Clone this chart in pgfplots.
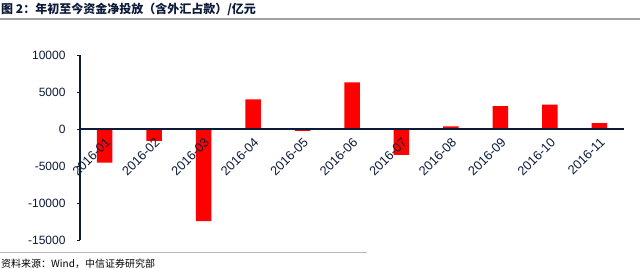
\documentclass[border=0pt]{standalone}
\usepackage{fontspec}
\setmainfont{Liberation Sans}
\newfontfamily\cjk{Noto Sans CJK SC}
\usepackage{pgfplots}
\pgfplotsset{compat=1.18}
\definecolor{navy}{HTML}{0D1B3A}
\definecolor{barred}{HTML}{FF0000}
\begin{document}
\begin{tikzpicture}[x=1pt,y=1pt]
\useasboundingbox (0,0) rectangle (640,268);
\fill[white] (0,0) rectangle (640,268);
\node[anchor=west,inner sep=0pt,font=\fontsize{12}{12}\cjk\bfseries,text=navy] at (1,259) {图 2：年初至今资金净投放（含外汇占款）/亿元};
\draw[gray!75, line width=1.6pt] (0,249) -- (640,249);
\draw[gray!55, line width=0.8pt] (0,15.3) -- (367,15.3);
\node[anchor=west,inner sep=0pt,font=\fontsize{10}{10}\cjk,text=black] at (1,4.5) {资料来源：Wind，中信证券研究部};
\begin{axis}[
  at={(80pt,28pt)}, anchor=south west,
  width=544pt, height=185pt, scale only axis,
  xmin=-0.5, xmax=10.5, ymin=-15000, ymax=10000,
  axis x line=middle, axis y line=left,
  axis line style={-, navy, line width=1.3pt},
  axis on top,
  ybar, bar width=15.5pt,
  xtick={0,...,10},
  xticklabels={2016-01,2016-02,2016-03,2016-04,2016-05,2016-06,2016-07,2016-08,2016-09,2016-10,2016-11},
  x tick label style={rotate=45, anchor=north east, font=\fontsize{12.8}{12.8}\selectfont, text=navy},
  xtick style={draw=none},
  ytick={-15000,-10000,-5000,0,5000,10000},
  scaled y ticks=false,
  y tick label style={font=\fontsize{12}{12}\selectfont, text=navy, xshift=-8pt},
  ytick style={navy, line width=1pt},
  tick align=outside, major tick length=3pt,
  /pgf/number format/assume math mode=true,
  /pgf/number format/1000 sep={},
  clip=false,
]
\addplot[fill=barred, draw=none] coordinates {
(0,-4550) (1,-1600) (2,-12450) (3,4000) (4,-250) (5,6300) (6,-3500) (7,350) (8,3100) (9,3300) (10,800)};
\end{axis}
\end{tikzpicture}
\end{document}
